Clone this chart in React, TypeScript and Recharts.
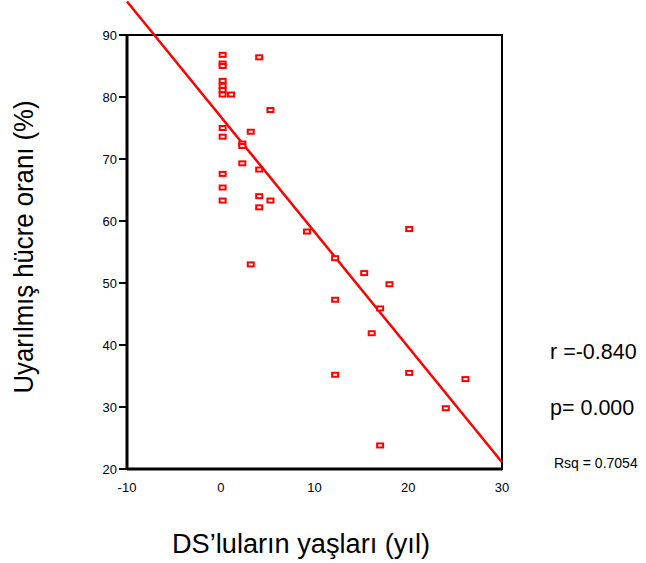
import React from 'react';
import { ScatterChart, Scatter, XAxis, YAxis, ReferenceLine, ReferenceArea, Label } from 'recharts';

// DS'luların yaşları (yıl)
const ages = [
  0.2, 4.1, 0.2, 0.2, 0.2, 0.2, 0.2, 0.2, 1.1, 5.3, 0.2, 3.2, 0.2, 2.3, 2.3, 2.3, 4.1, 0.2, 0.2,
  4.1, 5.3, 0.2, 4.1, 3.2, 9.2, 20.1, 12.2, 15.3, 18.0, 12.2, 17.0, 16.1, 12.2, 20.1, 26.1, 24.0, 17.0,
];
// Uyarılmış hücre oranı (%)
const rates = [
  86.8, 86.4, 85.4, 85.0, 82.6, 81.8, 81.1, 80.4, 80.4, 77.9, 75.0, 74.4, 73.6, 72.5, 72.1, 69.3, 68.3, 67.6, 65.4,
  64.0, 63.3, 63.3, 62.2, 53.0, 58.3, 58.7, 54.0, 51.6, 49.8, 47.3, 45.9, 41.9, 35.2, 35.5, 34.5, 29.8, 23.8,
];
const xTicks = [-10, 0, 10, 20, 30];
const yTicks = [20, 30, 40, 50, 60, 70, 80, 90];
// fit line: y = 76.8 - 1.857x, drawn from x=-10 to x=30
const fitX = [-10, 30];
const fitY = [95.4, 21.1];

const points = ages.map((a, i) => ({ x: a, y: rates[i] }));

const SquareMark = (props: any) => {
  const { cx, cy } = props;
  return <rect x={cx - 3} y={cy - 2} width={6} height={4} fill="white" stroke="#ff0000" strokeWidth={2} />;
};

const YTitle = (props: any) => {
  const vb = props.viewBox;
  const cy = vb.y + vb.height / 2 - 5;
  return (
    <text x={33} y={cy} transform={`rotate(-90, 33, ${cy})`} textAnchor="middle" fontSize={28} fill="#000"
      textLength={293} lengthAdjust="spacingAndGlyphs">
      Uyarılmış hücre oranı (%)
    </text>
  );
};

const XTitle = () => (
  <text x={301} y={553} textAnchor="middle" fontSize={27} fill="#000" textLength={258} lengthAdjust="spacingAndGlyphs">
    DS’luların yaşları (yıl)
  </text>
);

const font = "Arial, 'Liberation Sans', sans-serif";

export default function App() {
  return (
    <div style={{ position: 'absolute', left: 0, top: 0, width: 646, height: 563, background: '#fff', fontFamily: font }}>
      <ScatterChart width={646} height={563} margin={{ top: 35, right: 144, bottom: 0, left: 0 }} style={{ fontFamily: font }}>
        <ReferenceArea x1={-10} x2={30} y1={20} y2={90} fill="none" stroke="#000" strokeWidth={2} ifOverflow="visible" />
        <XAxis
          type="number"
          dataKey="x"
          domain={[-10, 30]}
          ticks={xTicks}
          height={94}
          tickLine={false}
          axisLine={{ stroke: '#000', strokeWidth: 3 }}
          tick={{ fill: '#000', fontSize: 13 }}
          tickMargin={8}
        >
          <Label content={<XTitle />} />
        </XAxis>
        <YAxis
          type="number"
          dataKey="y"
          domain={[20, 90]}
          ticks={yTicks}
          width={127}
          tickSize={8}
          tickLine={{ stroke: '#000', strokeWidth: 2 }}
          axisLine={{ stroke: '#000', strokeWidth: 3 }}
          tick={{ fill: '#000', fontSize: 13 }}
          allowDataOverflow
        >
          <Label content={<YTitle />} />
        </YAxis>
        <ReferenceLine
          segment={[{ x: fitX[0], y: fitY[0] }, { x: fitX[1], y: fitY[1] }]}
          stroke="#ff0000"
          strokeWidth={2.5}
          ifOverflow="visible"
        />
        <Scatter data={points} shape={<SquareMark />} isAnimationActive={false} />
      </ScatterChart>
      <div style={{ position: 'absolute', left: 550, top: 340, fontSize: 21.5, lineHeight: '24px', whiteSpace: 'nowrap' }}>r =-0.840</div>
      <div style={{ position: 'absolute', left: 550, top: 396, fontSize: 21.5, lineHeight: '24px', whiteSpace: 'nowrap' }}>p= 0.000</div>
      <div style={{ position: 'absolute', left: 554, top: 455, fontSize: 14, lineHeight: '16px', whiteSpace: 'nowrap' }}>Rsq = 0.7054</div>
    </div>
  );
}
